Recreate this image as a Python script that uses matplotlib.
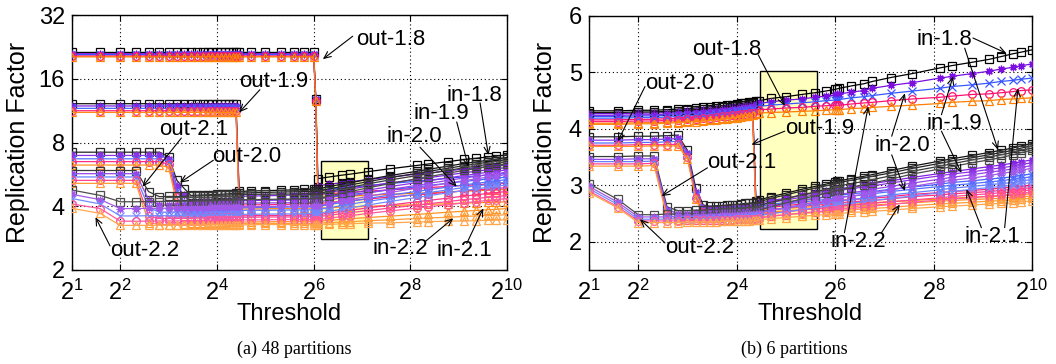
import matplotlib
matplotlib.use("Agg")
import matplotlib.pyplot as plt
from matplotlib.patches import Rectangle

plt.rcParams["font.family"] = ["Liberation Sans", "DejaVu Sans"]
plt.rcParams["mathtext.fontset"] = "custom"
plt.rcParams["mathtext.rm"] = "Liberation Sans"
plt.rcParams["mathtext.it"] = "Liberation Sans:italic"

# thresholds shared by every curve
THRESHOLDS = [2, 3, 4, 5, 6, 7, 8, 9, 10, 11, 12, 13, 14, 15, 16, 17, 18, 19, 20, 21,
              22, 26, 32, 40, 48, 56, 64, 66, 68, 80, 96, 108, 140, 190, 280, 330, 440,
              556, 660, 780, 880, 1024]

OUT_EXPONENTS = ["1.8", "1.9", "2.0", "2.1", "2.2"]
IN_EXPONENTS = ["1.8", "1.9", "2.0", "2.1", "2.2"]

# ---- 48 partitions: one row per in-exponent (1.8 .. 2.2) ----
P48_OUT18 = [
    [21.3] * 27 + [12.9, 5.40, 5.50, 5.61, 5.67, 5.83, 6.01, 6.23, 6.33, 6.50, 6.65, 6.74, 6.84, 6.90, 7.00],
    [21.0] * 27 + [12.8, 5.00, 5.08, 5.17, 5.22, 5.35, 5.49, 5.67, 5.74, 5.88, 6.00, 6.08, 6.15, 6.20, 6.28],
    [20.8] * 27 + [12.7, 4.75, 4.81, 4.88, 4.91, 5.01, 5.12, 5.25, 5.31, 5.42, 5.51, 5.56, 5.62, 5.66, 5.72],
    [20.5] * 27 + [12.6, 4.55, 4.59, 4.63, 4.65, 4.71, 4.78, 4.86, 4.90, 4.96, 5.02, 5.05, 5.09, 5.11, 5.15],
    [20.3] * 27 + [12.5, 4.40, 4.42, 4.45, 4.47, 4.51, 4.55, 4.61, 4.63, 4.68, 4.71, 4.74, 4.76, 4.78, 4.80],
]
P48_OUT19 = [
    [12.2] * 20 + [4.70, 4.72, 4.74, 4.76, 4.78, 4.80, 4.82, 4.82, 4.83, 4.95, 5.09, 5.16, 5.36, 5.58, 5.85, 5.97, 6.19, 6.37, 6.48, 6.60, 6.68, 6.80],
    [11.9] * 20 + [4.45, 4.47, 4.48, 4.50, 4.52, 4.54, 4.55, 4.56, 4.56, 4.65, 4.76, 4.82, 4.98, 5.15, 5.36, 5.45, 5.62, 5.76, 5.85, 5.95, 6.01, 6.10],
    [11.6] * 20 + [4.25, 4.26, 4.27, 4.29, 4.30, 4.32, 4.33, 4.33, 4.34, 4.41, 4.49, 4.54, 4.65, 4.78, 4.94, 5.01, 5.14, 5.24, 5.31, 5.38, 5.43, 5.50],
    [11.3] * 20 + [4.05, 4.06, 4.07, 4.08, 4.09, 4.10, 4.11, 4.11, 4.12, 4.17, 4.22, 4.25, 4.33, 4.42, 4.53, 4.57, 4.66, 4.73, 4.78, 4.82, 4.85, 4.90],
    [11.1] * 20 + [3.88, 3.88, 3.89, 3.90, 3.90, 3.91, 3.92, 3.92, 3.92, 3.94, 3.96, 3.97, 4.00, 4.03, 4.07, 4.08, 4.11, 4.14, 4.16, 4.17, 4.18, 4.20],
]
P48_OUT20 = [
    [7.20] * 6 + [6.85, 5.30, 4.85, 4.50, 4.51, 4.52, 4.53, 4.54, 4.55, 4.56, 4.57, 4.58, 4.59, 4.60, 4.61, 4.63, 4.65, 4.67, 4.68, 4.69, 4.70, 4.70, 4.71, 4.83, 4.96, 5.04, 5.23, 5.45, 5.72, 5.84, 6.05, 6.22, 6.34, 6.46, 6.53, 6.65],
    [6.95] * 6 + [6.70, 5.00, 4.50, 4.15, 4.16, 4.17, 4.18, 4.19, 4.20, 4.21, 4.22, 4.22, 4.23, 4.24, 4.25, 4.26, 4.27, 4.28, 4.29, 4.30, 4.32, 4.32, 4.33, 4.43, 4.54, 4.61, 4.77, 4.95, 5.17, 5.27, 5.45, 5.59, 5.69, 5.79, 5.85, 5.95],
    [6.70] * 6 + [6.50, 4.70, 4.20, 3.85, 3.86, 3.86, 3.87, 3.88, 3.89, 3.90, 3.90, 3.91, 3.92, 3.92, 3.93, 3.94, 3.95, 3.96, 3.97, 3.97, 3.98, 3.98, 3.99, 4.07, 4.17, 4.22, 4.36, 4.51, 4.70, 4.78, 4.93, 5.05, 5.13, 5.21, 5.27, 5.35],
    [6.50] * 6 + [6.30, 4.40, 3.85, 3.55, 3.55, 3.56, 3.56, 3.57, 3.57, 3.58, 3.58, 3.59, 3.59, 3.60, 3.60, 3.61, 3.62, 3.62, 3.63, 3.64, 3.65, 3.65, 3.65, 3.71, 3.79, 3.83, 3.93, 4.05, 4.20, 4.26, 4.37, 4.47, 4.53, 4.60, 4.64, 4.70],
    [6.26] * 6 + [6.10, 4.10, 3.60, 3.33, 3.33, 3.34, 3.34, 3.34, 3.35, 3.35, 3.35, 3.36, 3.36, 3.36, 3.37, 3.37, 3.38, 3.38, 3.39, 3.39, 3.40, 3.40, 3.40, 3.43, 3.47, 3.49, 3.54, 3.59, 3.66, 3.69, 3.75, 3.79, 3.82, 3.85, 3.87, 3.90],
]
P48_OUT21 = [
    [5.90] * 4 + [4.69, 4.44, 4.45, 4.45, 4.46, 4.47, 4.47, 4.48, 4.49, 4.49, 4.50, 4.51, 4.51, 4.52, 4.53, 4.53, 4.54, 4.55, 4.56, 4.57, 4.57, 4.58, 4.58, 4.58, 4.59, 4.70, 4.84, 4.91, 5.11, 5.32, 5.58, 5.70, 5.91, 6.08, 6.19, 6.31, 6.39, 6.50],
    [5.70] * 4 + [4.30, 4.05, 4.06, 4.06, 4.07, 4.07, 4.08, 4.08, 4.09, 4.09, 4.10, 4.10, 4.11, 4.11, 4.12, 4.12, 4.13, 4.14, 4.15, 4.15, 4.16, 4.17, 4.18, 4.18, 4.18, 4.28, 4.39, 4.46, 4.62, 4.80, 5.02, 5.12, 5.30, 5.44, 5.54, 5.64, 5.70, 5.80],
    [5.50] * 4 + [3.95, 3.75, 3.75, 3.76, 3.76, 3.77, 3.77, 3.78, 3.78, 3.79, 3.79, 3.80, 3.80, 3.81, 3.81, 3.82, 3.82, 3.83, 3.83, 3.84, 3.84, 3.85, 3.85, 3.85, 3.86, 3.94, 4.03, 4.09, 4.22, 4.37, 4.56, 4.64, 4.78, 4.91, 4.99, 5.07, 5.12, 5.20],
    [5.30] * 4 + [3.60, 3.50, 3.50, 3.50, 3.51, 3.51, 3.52, 3.52, 3.52, 3.53, 3.53, 3.53, 3.54, 3.54, 3.54, 3.55, 3.55, 3.55, 3.56, 3.56, 3.56, 3.57, 3.57, 3.57, 3.57, 3.63, 3.69, 3.73, 3.82, 3.92, 4.05, 4.11, 4.21, 4.30, 4.35, 4.41, 4.44, 4.50],
    [5.13] * 4 + [3.35, 3.28, 3.28, 3.28, 3.29, 3.29, 3.29, 3.29, 3.30, 3.30, 3.30, 3.30, 3.31, 3.31, 3.31, 3.31, 3.31, 3.31, 3.32, 3.32, 3.32, 3.32, 3.32, 3.32, 3.33, 3.35, 3.37, 3.38, 3.42, 3.45, 3.50, 3.52, 3.55, 3.58, 3.60, 3.62, 3.63, 3.65],
]
P48_OUT22 = [
    [4.77, 4.50, 4.20, 4.20, 4.21, 4.21, 4.22, 4.22, 4.23, 4.23, 4.24, 4.24, 4.25, 4.25, 4.26, 4.26, 4.27, 4.27, 4.28, 4.28, 4.29, 4.30, 4.31, 4.32, 4.33, 4.34, 4.35, 4.35, 4.35, 4.47, 4.61, 4.69, 4.89, 5.11, 5.39, 5.51, 5.73, 5.91, 6.03, 6.15, 6.23, 6.35],
    [4.55, 4.30, 3.90, 3.90, 3.91, 3.91, 3.92, 3.92, 3.92, 3.93, 3.93, 3.94, 3.94, 3.95, 3.95, 3.96, 3.96, 3.96, 3.97, 3.97, 3.98, 3.98, 3.99, 4.00, 4.00, 4.01, 4.02, 4.02, 4.02, 4.12, 4.23, 4.30, 4.46, 4.64, 4.87, 4.97, 5.14, 5.29, 5.39, 5.49, 5.55, 5.65],
    [4.35, 4.10, 3.60, 3.60, 3.61, 3.61, 3.61, 3.62, 3.62, 3.62, 3.63, 3.63, 3.63, 3.64, 3.64, 3.64, 3.65, 3.65, 3.65, 3.66, 3.66, 3.67, 3.67, 3.68, 3.68, 3.69, 3.70, 3.70, 3.70, 3.78, 3.88, 3.93, 4.06, 4.21, 4.40, 4.48, 4.63, 4.75, 4.83, 4.92, 4.97, 5.05],
    [4.10, 3.90, 3.40, 3.40, 3.40, 3.41, 3.41, 3.41, 3.42, 3.42, 3.42, 3.42, 3.43, 3.43, 3.43, 3.43, 3.44, 3.44, 3.44, 3.44, 3.45, 3.45, 3.45, 3.46, 3.46, 3.46, 3.46, 3.46, 3.46, 3.51, 3.58, 3.61, 3.70, 3.80, 3.92, 3.98, 4.07, 4.15, 4.21, 4.26, 4.30, 4.35],
    [3.91, 3.70, 3.25, 3.25, 3.25, 3.25, 3.25, 3.26, 3.26, 3.26, 3.26, 3.26, 3.26, 3.27, 3.27, 3.27, 3.27, 3.27, 3.27, 3.27, 3.27, 3.27, 3.28, 3.28, 3.28, 3.28, 3.28, 3.28, 3.28, 3.29, 3.30, 3.31, 3.33, 3.34, 3.37, 3.38, 3.40, 3.41, 3.42, 3.43, 3.44, 3.45],
]

# ---- 6 partitions ----
P6_OUT18 = [
    [4.32, 4.32, 4.33, 4.33, 4.34, 4.35, 4.36, 4.37, 4.38, 4.39, 4.40, 4.41, 4.42, 4.43, 4.44, 4.45, 4.46, 4.47, 4.48, 4.49, 4.50, 4.54, 4.57, 4.61, 4.64, 4.67, 4.70, 4.71, 4.72, 4.76, 4.80, 4.84, 4.91, 4.98, 5.08, 5.12, 5.18, 5.23, 5.28, 5.33, 5.36, 5.40],
    [4.27, 4.27, 4.28, 4.28, 4.29, 4.30, 4.31, 4.32, 4.33, 4.34, 4.35, 4.36, 4.37, 4.38, 4.39, 4.40, 4.41, 4.42, 4.43, 4.44, 4.45, 4.48, 4.51, 4.53, 4.56, 4.58, 4.60, 4.61, 4.62, 4.65, 4.68, 4.72, 4.77, 4.82, 4.90, 4.93, 4.98, 5.02, 5.06, 5.09, 5.12, 5.15],
    [4.22, 4.22, 4.23, 4.23, 4.24, 4.25, 4.26, 4.27, 4.28, 4.29, 4.30, 4.31, 4.32, 4.33, 4.34, 4.35, 4.36, 4.37, 4.38, 4.39, 4.40, 4.42, 4.44, 4.46, 4.48, 4.50, 4.51, 4.52, 4.52, 4.55, 4.57, 4.59, 4.63, 4.67, 4.72, 4.75, 4.78, 4.81, 4.84, 4.86, 4.88, 4.90],
    [4.16, 4.16, 4.17, 4.17, 4.18, 4.19, 4.20, 4.21, 4.22, 4.23, 4.24, 4.25, 4.26, 4.27, 4.28, 4.29, 4.30, 4.31, 4.32, 4.33, 4.34, 4.35, 4.37, 4.38, 4.40, 4.41, 4.42, 4.42, 4.42, 4.44, 4.46, 4.47, 4.50, 4.53, 4.56, 4.58, 4.61, 4.62, 4.64, 4.66, 4.68, 4.69],
    [4.10, 4.10, 4.11, 4.11, 4.12, 4.13, 4.14, 4.15, 4.16, 4.17, 4.18, 4.19, 4.20, 4.21, 4.22, 4.23, 4.24, 4.25, 4.26, 4.27, 4.28, 4.29, 4.30, 4.31, 4.32, 4.33, 4.34, 4.34, 4.34, 4.36, 4.37, 4.38, 4.40, 4.42, 4.45, 4.47, 4.49, 4.50, 4.52, 4.53, 4.54, 4.55],
]
P6_OUT19 = [
    [4.29, 4.29, 4.30, 4.30, 4.31, 4.32, 4.33, 4.34, 4.35, 4.36, 4.37, 4.38, 4.39, 4.40, 4.41, 4.42, 4.43, 4.44, 4.45, 2.72, 2.74, 2.80, 2.86, 2.93, 2.98, 3.02, 3.06, 3.07, 3.08, 3.12, 3.16, 3.19, 3.26, 3.34, 3.43, 3.47, 3.53, 3.58, 3.62, 3.66, 3.70, 3.74],
    [4.24, 4.24, 4.25, 4.25, 4.26, 4.27, 4.28, 4.29, 4.30, 4.31, 4.32, 4.33, 4.34, 4.35, 4.36, 4.37, 4.38, 4.39, 4.40, 2.66, 2.68, 2.73, 2.77, 2.83, 2.86, 2.90, 2.93, 2.93, 2.94, 2.97, 3.00, 3.03, 3.08, 3.14, 3.21, 3.24, 3.29, 3.33, 3.36, 3.39, 3.42, 3.45],
    [4.19, 4.19, 4.20, 4.20, 4.21, 4.22, 4.23, 4.24, 4.25, 4.26, 4.27, 4.28, 4.29, 4.30, 4.31, 4.32, 4.33, 4.34, 4.35, 2.62, 2.63, 2.66, 2.70, 2.74, 2.77, 2.79, 2.81, 2.82, 2.82, 2.85, 2.87, 2.89, 2.93, 2.97, 3.02, 3.05, 3.08, 3.11, 3.13, 3.15, 3.18, 3.20],
    [4.13, 4.13, 4.14, 4.14, 4.15, 4.16, 4.17, 4.18, 4.19, 4.20, 4.21, 4.22, 4.23, 4.24, 4.25, 4.26, 4.27, 4.28, 4.29, 2.58, 2.59, 2.61, 2.64, 2.67, 2.69, 2.70, 2.72, 2.73, 2.73, 2.75, 2.76, 2.77, 2.80, 2.84, 2.87, 2.89, 2.91, 2.93, 2.95, 2.97, 2.98, 3.00],
    [4.08, 4.08, 4.09, 4.09, 4.10, 4.11, 4.12, 4.13, 4.14, 4.15, 4.16, 4.17, 4.18, 4.19, 4.20, 4.21, 4.22, 4.23, 4.24, 2.54, 2.55, 2.57, 2.59, 2.61, 2.62, 2.63, 2.65, 2.65, 2.65, 2.66, 2.68, 2.69, 2.71, 2.73, 2.76, 2.77, 2.79, 2.80, 2.81, 2.83, 2.84, 2.85],
]
P6_OUT20 = [
    [3.86, 3.86, 3.87, 3.87, 3.88, 3.89, 3.62, 2.95, 2.65, 2.63, 2.64, 2.64, 2.65, 2.66, 2.66, 2.67, 2.68, 2.68, 2.69, 2.70, 2.71, 2.77, 2.83, 2.90, 2.95, 2.99, 3.03, 3.04, 3.05, 3.09, 3.13, 3.16, 3.22, 3.30, 3.39, 3.43, 3.49, 3.54, 3.58, 3.62, 3.66, 3.70],
    [3.80, 3.80, 3.81, 3.81, 3.82, 3.83, 3.58, 2.88, 2.60, 2.58, 2.58, 2.59, 2.59, 2.60, 2.60, 2.61, 2.61, 2.62, 2.62, 2.63, 2.65, 2.70, 2.74, 2.79, 2.83, 2.86, 2.89, 2.90, 2.91, 2.94, 2.97, 2.99, 3.04, 3.10, 3.17, 3.20, 3.24, 3.28, 3.31, 3.34, 3.37, 3.40],
    [3.75, 3.75, 3.76, 3.76, 3.77, 3.78, 3.54, 2.82, 2.56, 2.54, 2.54, 2.55, 2.55, 2.55, 2.56, 2.56, 2.57, 2.57, 2.57, 2.58, 2.60, 2.63, 2.67, 2.70, 2.73, 2.75, 2.78, 2.78, 2.79, 2.81, 2.83, 2.85, 2.89, 2.93, 2.98, 3.00, 3.03, 3.06, 3.08, 3.11, 3.13, 3.15],
    [3.71, 3.71, 3.72, 3.72, 3.72, 3.73, 3.50, 2.78, 2.52, 2.50, 2.50, 2.50, 2.51, 2.51, 2.51, 2.52, 2.52, 2.52, 2.53, 2.53, 2.55, 2.57, 2.60, 2.63, 2.65, 2.66, 2.68, 2.69, 2.69, 2.71, 2.72, 2.73, 2.76, 2.80, 2.83, 2.85, 2.87, 2.89, 2.91, 2.93, 2.94, 2.96],
    [3.69, 3.69, 3.69, 3.70, 3.70, 3.70, 3.47, 2.75, 2.48, 2.46, 2.46, 2.46, 2.47, 2.47, 2.47, 2.48, 2.48, 2.48, 2.49, 2.49, 2.51, 2.53, 2.55, 2.57, 2.58, 2.59, 2.61, 2.61, 2.61, 2.62, 2.64, 2.65, 2.67, 2.69, 2.72, 2.73, 2.75, 2.76, 2.77, 2.79, 2.80, 2.81],
]
P6_OUT21 = [
    [3.51, 3.51, 3.52, 3.52, 2.62, 2.55, 2.55, 2.56, 2.56, 2.57, 2.57, 2.58, 2.58, 2.59, 2.59, 2.60, 2.60, 2.61, 2.61, 2.62, 2.64, 2.70, 2.76, 2.83, 2.88, 2.93, 2.97, 2.98, 2.99, 3.03, 3.07, 3.10, 3.17, 3.25, 3.34, 3.38, 3.45, 3.50, 3.54, 3.58, 3.62, 3.66],
    [3.46, 3.46, 3.47, 3.47, 2.57, 2.50, 2.50, 2.51, 2.51, 2.51, 2.52, 2.52, 2.53, 2.53, 2.53, 2.54, 2.54, 2.55, 2.55, 2.56, 2.58, 2.63, 2.67, 2.73, 2.76, 2.80, 2.83, 2.83, 2.84, 2.87, 2.90, 2.93, 2.98, 3.04, 3.11, 3.14, 3.19, 3.23, 3.26, 3.29, 3.32, 3.35],
    [3.42, 3.42, 3.42, 3.43, 2.53, 2.46, 2.46, 2.46, 2.47, 2.47, 2.47, 2.48, 2.48, 2.48, 2.49, 2.49, 2.49, 2.50, 2.50, 2.51, 2.53, 2.56, 2.60, 2.64, 2.67, 2.69, 2.71, 2.72, 2.72, 2.75, 2.77, 2.79, 2.83, 2.87, 2.92, 2.95, 2.98, 3.01, 3.03, 3.05, 3.08, 3.10],
    [3.38, 3.38, 3.38, 3.39, 2.48, 2.42, 2.42, 2.42, 2.42, 2.43, 2.43, 2.43, 2.44, 2.44, 2.44, 2.44, 2.45, 2.45, 2.45, 2.46, 2.48, 2.51, 2.53, 2.56, 2.59, 2.60, 2.62, 2.63, 2.63, 2.65, 2.66, 2.68, 2.71, 2.74, 2.78, 2.80, 2.83, 2.85, 2.87, 2.88, 2.90, 2.92],
    [3.34, 3.34, 3.34, 3.35, 2.44, 2.38, 2.38, 2.38, 2.38, 2.39, 2.39, 2.39, 2.39, 2.40, 2.40, 2.40, 2.41, 2.41, 2.41, 2.42, 2.44, 2.46, 2.48, 2.50, 2.52, 2.53, 2.55, 2.55, 2.55, 2.57, 2.58, 2.59, 2.61, 2.64, 2.67, 2.68, 2.70, 2.72, 2.73, 2.74, 2.76, 2.77],
]
P6_OUT22 = [
    [3.03, 2.75, 2.48, 2.48, 2.49, 2.49, 2.50, 2.50, 2.50, 2.51, 2.51, 2.52, 2.52, 2.52, 2.53, 2.53, 2.54, 2.54, 2.55, 2.55, 2.56, 2.62, 2.69, 2.76, 2.81, 2.86, 2.90, 2.91, 2.92, 2.96, 3.01, 3.04, 3.11, 3.20, 3.29, 3.33, 3.40, 3.45, 3.49, 3.54, 3.58, 3.62],
    [2.98, 2.70, 2.44, 2.44, 2.44, 2.45, 2.45, 2.45, 2.46, 2.46, 2.46, 2.47, 2.47, 2.47, 2.48, 2.48, 2.49, 2.49, 2.50, 2.50, 2.51, 2.56, 2.60, 2.66, 2.70, 2.73, 2.76, 2.77, 2.78, 2.81, 2.84, 2.87, 2.92, 2.98, 3.06, 3.09, 3.13, 3.17, 3.21, 3.24, 3.27, 3.30],
    [2.94, 2.66, 2.40, 2.40, 2.40, 2.41, 2.41, 2.41, 2.41, 2.42, 2.42, 2.42, 2.43, 2.43, 2.43, 2.44, 2.44, 2.44, 2.45, 2.45, 2.46, 2.50, 2.53, 2.57, 2.60, 2.63, 2.65, 2.65, 2.66, 2.68, 2.71, 2.73, 2.77, 2.81, 2.87, 2.89, 2.93, 2.96, 2.98, 3.00, 3.03, 3.05],
    [2.90, 2.62, 2.37, 2.37, 2.37, 2.37, 2.38, 2.38, 2.38, 2.38, 2.39, 2.39, 2.39, 2.39, 2.40, 2.40, 2.40, 2.40, 2.41, 2.41, 2.42, 2.45, 2.48, 2.51, 2.53, 2.55, 2.57, 2.57, 2.58, 2.59, 2.61, 2.63, 2.66, 2.70, 2.74, 2.76, 2.78, 2.81, 2.82, 2.84, 2.86, 2.88],
    [2.87, 2.60, 2.34, 2.34, 2.34, 2.34, 2.35, 2.35, 2.35, 2.35, 2.35, 2.36, 2.36, 2.36, 2.36, 2.37, 2.37, 2.37, 2.38, 2.38, 2.39, 2.41, 2.43, 2.45, 2.47, 2.48, 2.50, 2.50, 2.50, 2.52, 2.53, 2.54, 2.56, 2.59, 2.62, 2.63, 2.65, 2.67, 2.68, 2.69, 2.71, 2.72],
]

# labels: (text, text position, [(arrow tail, arrow tip), ...]) in data units
NOTES_48 = [
    ("out-1.8", (118, 24.6), [((112, 25.4), (73, 19.8))]),
    ("out-1.9", (22, 15.6), [((29.6, 14.2), (22, 11.1))]),
    ("out-2.1", (7.0, 9.2), [((9.6, 8.4), (5.5, 4.95))]),
    ("out-2.0", (15, 6.9), [((15.2, 6.6), (9.4, 5.17))]),
    ("out-2.2", (3.48, 2.47), [((3.45, 2.6), (2.8, 3.55))]),
    ("in-1.8", (431, 13.4), [((696, 12.3), (784, 6.98))]),
    ("in-1.9", (267, 11.0), [((498, 10.0), (588, 6.15))]),
    ("in-2.0", (181, 8.5), [((294, 7.6), (498, 4.95))]),
    ("in-2.2", (149, 2.53), [((316, 2.72), (474, 3.51))]),
    ("in-2.1", (374, 2.47), [((575, 2.67), (729, 3.91))]),
]
NOTES_6 = [
    ("out-1.8", (8.5, 5.40), [((21.7, 5.31), (31.5, 4.41))]),
    ("out-2.0", (4.4, 4.81), [((4.4, 4.75), (3.0, 3.78))]),
    ("out-1.9", (31.5, 4.0), [((31.5, 3.96), (19.7, 3.72))]),
    ("out-2.1", (10.5, 3.40), [((10.6, 3.31), (5.56, 2.81))]),
    ("out-2.2", (5.83, 1.90), [((5.83, 1.98), (4.1, 2.40))]),
    ("in-1.8", (201, 5.59), [((446, 5.61), (714, 5.34)), ((397, 5.43), (634, 3.63))]),
    ("in-1.9", (232, 4.10), [((286, 4.25), (337, 4.93)), ((286, 3.96), (379, 3.22))]),
    ("in-2.0", (111, 3.70), [((142, 3.87), (171, 4.63)), ((142, 3.54), (171, 2.90))]),
    ("in-2.2", (60, 2.00), [((73, 2.16), (102, 4.40)), ((123, 2.16), (159, 2.66))]),
    ("in-2.1", (397, 2.10), [((502, 2.25), (407, 2.93)), ((697, 2.25), (840, 4.72))]),
]

BASE_COLORS = ["#000000", "#7a10e0", "#3858ff", "#ff1070", "#ff8000"]
MARKERS = ["s", (8, 2, 0), "x", "o", "^"]
FADE = [0.0, 0.07, 0.14, 0.22, 0.30]


def faded(hex_color, amount):
    r, g, b = matplotlib.colors.to_rgb(hex_color)
    return (r + (1 - r) * amount, g + (1 - g) * amount, b + (1 - b) * amount)


def draw_panel(ax, groups, notes):
    for gi, rows in enumerate(groups):
        for ii, vals in enumerate(rows):
            c = faded(BASE_COLORS[ii], FADE[gi])
            ax.plot(THRESHOLDS, vals, color=c, lw=0.9, marker=MARKERS[ii],
                    ms=5.5, mew=0.9, mfc="none", mec=c, zorder=3)
    ax.set_xscale("log", base=2)
    ax.set_xlim(2, 1024)
    ax.set_xticks([2, 4, 16, 64, 256, 1024])
    ax.set_xticklabels(["$2^{1}$", "$2^{2}$", "$2^{4}$", "$2^{6}$", "$2^{8}$", "$2^{10}$"])
    ax.minorticks_off()
    ax.grid(True, ls=(0, (1, 2.5)), color="black", lw=0.8)
    ax.tick_params(direction="in", top=True, right=True, labelsize=17, length=4)
    ax.tick_params(axis="x", pad=7)
    ax.tick_params(axis="y", pad=5)
    for sp in ax.spines.values():
        sp.set_linewidth(1.0)
    for text, pos, arrows in notes:
        ax.text(pos[0], pos[1], text, fontsize=16, ha="left", va="center", zorder=6)
        for tail, tip in arrows:
            ax.annotate("", xy=tip, xytext=tail, zorder=6,
                        arrowprops=dict(arrowstyle="->,head_length=0.5,head_width=0.22",
                                        color="black", lw=0.8, shrinkA=0, shrinkB=0))


fig = plt.figure(figsize=(10.56, 3.64), dpi=100)
ax1 = fig.add_axes([72 / 1056, 94 / 364, 435 / 1056, 255 / 364])
ax2 = fig.add_axes([589 / 1056, 94 / 364, 443 / 1056, 254 / 364])

draw_panel(ax1, [P48_OUT18, P48_OUT19, P48_OUT20, P48_OUT21, P48_OUT22], NOTES_48)
ax1.set_yscale("log", base=2)
ax1.set_ylim(2, 32)
ax1.set_yticks([2, 4, 8, 16, 32])
ax1.set_yticklabels(["2", "4", "8", "16", "32"])
ax1.minorticks_off()
ax1.add_patch(Rectangle((2 ** 6.16, 2.8), 2 ** 7.12 - 2 ** 6.16, 6.56 - 2.8,
                        facecolor="#ffffc0", edgecolor="black", lw=1.0, zorder=2))

draw_panel(ax2, [P6_OUT18, P6_OUT19, P6_OUT20, P6_OUT21, P6_OUT22], NOTES_6)
ax2.set_ylim(1.5, 6)
ax2.set_yticks([2, 3, 4, 5, 6])
ax2.add_patch(Rectangle((2 ** 4.47, 2.22), 2 ** 5.64 - 2 ** 4.47, 5.02 - 2.22,
                        facecolor="#ffffc0", edgecolor="black", lw=1.0, zorder=2))

for xc, xl in [(18, 289), (545, 810)]:
    fig.text(xc / 1056, 0.609, "Replication Factor", rotation=90, fontsize=18,
             ha="center", va="center")
    fig.text(xl / 1056, 1 - 314 / 364, "Threshold", fontsize=17, ha="center", va="center")

fig.text(294 / 1056, 1 - 349 / 364, "(a) 48 partitions", fontsize=13,
         family="Liberation Serif", ha="center", va="center")
fig.text(794 / 1056, 1 - 349 / 364, "(b) 6 partitions", fontsize=13,
         family="Liberation Serif", ha="center", va="center")

fig.savefig("out.png", dpi=100)
